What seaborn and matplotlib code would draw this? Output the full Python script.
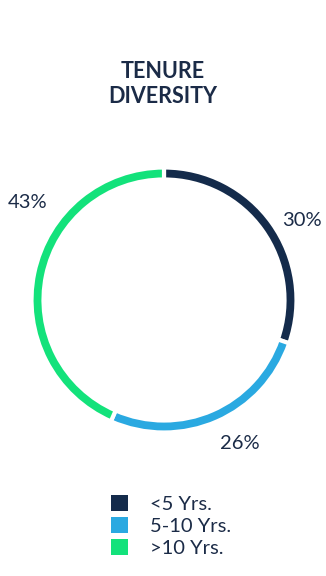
import matplotlib
matplotlib.use("Agg")
import matplotlib.pyplot as plt
import seaborn as sns
import numpy as np
from matplotlib.patches import Patch

categories = ["<5 Yrs.", "5-10 Yrs.", ">10 Yrs."]
values = [30, 26, 43]
labels = ["30%", "26%", "43%"]
colors = ["#142B4B", "#2AA9E1", "#13E27B"]
title = "TENURE\nDIVERSITY"

sns.set_theme(style="white")
plt.rcParams["font.family"] = ["Lato", "DejaVu Sans"]
text_color = "#1B2B47"

W, H = 326, 576
fig = plt.figure(figsize=(W / 100, H / 100), dpi=100)
fig.patch.set_facecolor("white")

cx, cy, r = 164, 300, 131
ax = fig.add_axes([(cx - r) / W, 1 - (cy + r) / H, 2 * r / W, 2 * r / H])
lw = 3.0
wedges, _ = ax.pie(values, colors=colors, startangle=90, counterclock=False,
                   radius=(r + 1.5) / r,
                   wedgeprops=dict(width=12 / r, edgecolor="white", linewidth=lw))
ax.set_xlim(-1, 1)
ax.set_ylim(-1, 1)
ax.set_aspect("auto")
ax.axis("off")

# label positions (angle in degrees, radius relative)
label_pos = [(30, 1.22), (-62, 1.24), (144.5, 1.28)]
for lab, (ang, rr) in zip(labels, label_pos):
    a = np.deg2rad(ang)
    ax.text(rr * np.cos(a), rr * np.sin(a), lab, ha="center", va="center",
            fontsize=14.5, color=text_color, clip_on=False)

fig.text(0.5, 1 - 84 / H, title, ha="center", va="center", fontsize=15.5,
         fontweight="bold", color=text_color, linespacing=1.2)

handles = [Patch(facecolor=c, edgecolor="none") for c in colors]
leg = fig.legend(handles, categories, loc="upper left",
                 bbox_to_anchor=(111 / W, 1 - 495 / H), frameon=False,
                 fontsize=14.5, handlelength=0.85, handleheight=0.85,
                 handletextpad=1.1, labelspacing=0.2, borderpad=0,
                 borderaxespad=0)
for t in leg.get_texts():
    t.set_color(text_color)

fig.savefig("out.png", dpi=100, facecolor="white")
